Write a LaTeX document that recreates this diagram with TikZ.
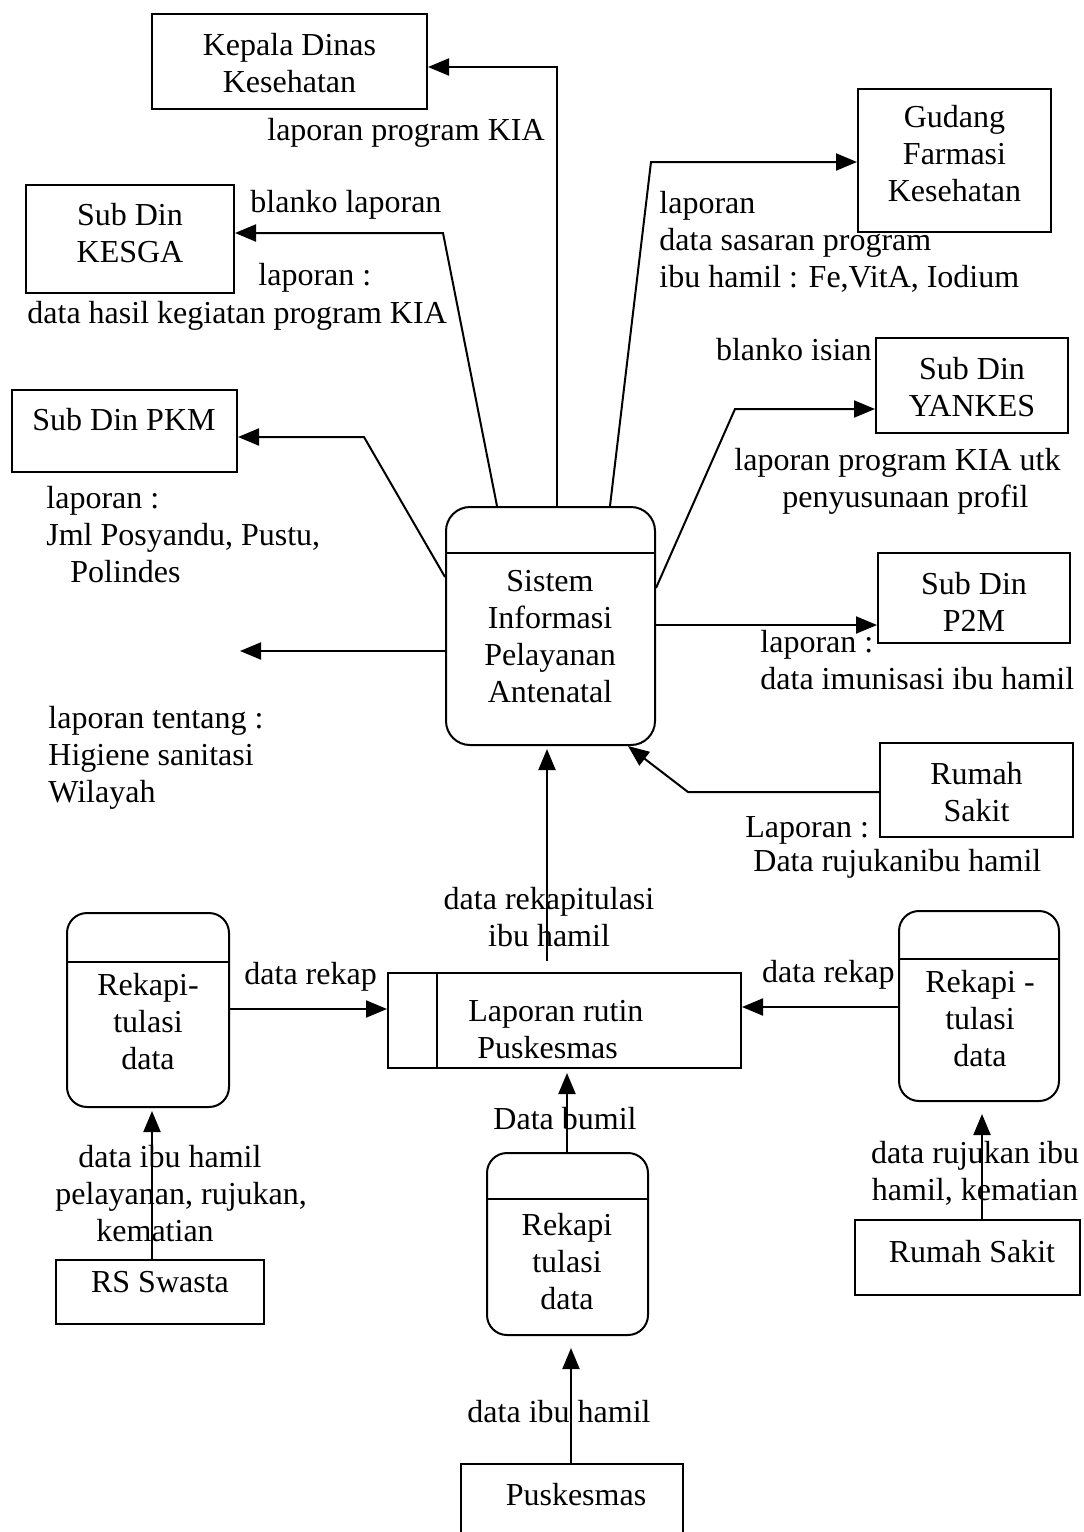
\documentclass[tikz,border=0pt]{standalone}
\usepackage{fontspec}
\setmainfont{Liberation Serif}
\usetikzlibrary{arrows.meta}
\begin{document}
\begin{tikzpicture}[x=0.5pt,y=-0.5pt,
  every node/.style={font=\fontsize{16}{18.5}\selectfont, inner sep=0pt},
  ent/.style={draw, line width=1pt, align=center},
  store/.style={draw, line width=1pt, rounded corners=10pt},
  arr/.style={line width=1pt, -{Triangle[length=10.5pt,width=8.5pt]}},
  lbl/.style={align=left}]

% page
\useasboundingbox (0,0) rectangle (1083,1532);
\fill[white] (0,0) rectangle (1083,1532);
\clip (0,0) rectangle (1083,1532);

% external entities
\node[ent, minimum width=137.5pt, minimum height=47.5pt] (kepala) at (289.5,61.5) {};
\node[align=center] (kepalatxt) at (289.5,63.5) {Kepala Dinas\\Kesehatan};
\node[ent, minimum width=96.5pt, minimum height=71.5pt] (gudang) at (954.5,160.5) {};
\node[align=center] (gudangtxt) at (954.5,154) {Gudang\\Farmasi\\Kesehatan};
\node[ent, minimum width=104pt, minimum height=54pt] (kesga) at (130,239) {};
\node[align=center] (kesgatxt) at (130,233.5) {Sub Din\\KESGA};
\node[ent, minimum width=112.5pt, minimum height=41pt] (pkm) at (124.5,431) {};
\node (pkmtxt) at (124,420) {Sub Din PKM};
\node[ent, minimum width=96pt, minimum height=47.5pt] (yankes) at (972,385.5) {};
\node[align=center] (yankestxt) at (972,387.5) {Sub Din\\YANKES};
\node[ent, minimum width=96pt, minimum height=45pt] (p2m) at (974,598) {};
\node[align=center] (p2mtxt) at (974,601.5) {Sub Din\\P2M};
\node[ent, minimum width=96.5pt, minimum height=47pt] (rs) at (976.5,790) {};
\node[align=center] (rstxt) at (976.5,792) {Rumah\\Sakit};
\node[ent, minimum width=104pt, minimum height=32pt] (rsw) at (160,1292) {};
\node (rswtxt) at (160,1282) {RS Swasta};
\node[ent, minimum width=112.5pt, minimum height=37.5pt] (rsb) at (967.5,1257.5) {};
\node (rsbtxt) at (972,1252) {Rumah Sakit};
\node[ent, minimum width=111pt, minimum height=38pt] (pusk) at (572,1502) {};
\node (pusktxt) at (576,1495) {Puskesmas};

% main process
\node[store, rounded corners=12pt, minimum width=104.5pt, minimum height=119pt] (proc) at (550.5,626) {};
\draw[line width=1pt] (proc.west |- 0,553) -- (proc.east |- 0,553);
\node[align=center] (proctxt) at (550,636.5) {Sistem\\Informasi\\Pelayanan\\Antenatal};

% routine report
\node[ent, minimum width=176.5pt, minimum height=47.5pt] (lap) at (564.5,1020.5) {};
\draw[line width=1pt] (lap.north -| 437,0) -- (lap.south -| 437,0);
\node[lbl, anchor=west] (laptxt) at (468,1030) {Laporan rutin\\\hspace*{4.5pt}Puskesmas};

% data stores
\node[store, minimum width=81pt, minimum height=97pt] (storeL) at (148,1010) {};
\draw[line width=1pt] (storeL.west |- 0,962) -- (storeL.east |- 0,962);
\node[align=center] (storeLtxt) at (148,1022) {Rekapi-\\tulasi\\data};
\node[store, minimum width=80pt, minimum height=95pt] (storeR) at (979,1006) {};
\draw[line width=1pt] (storeR.west |- 0,959) -- (storeR.east |- 0,959);
\node[align=center] (storeRtxt) at (980,1019) {Rekapi -\\tulasi\\data};
\node[store, minimum width=80.5pt, minimum height=91pt] (storeB) at (567.5,1244) {};
\draw[line width=1pt] (storeB.west |- 0,1199) -- (storeB.east |- 0,1199);
\node[align=center] (storeBtxt) at (567,1262) {Rekapi\\tulasi\\data};

% flows from the process
\coordinate (ka) at (557,67);
\draw[arr] (proc.north -| ka) -- (ka) -- (kepala.east |- ka);
\coordinate (ga) at (651,162);
\draw[arr] (proc.north -| 610,0) -- (ga) -- (gudang.west |- ga);
\coordinate (sa) at (443,233);
\draw[arr] (proc.north -| 497,0) -- (sa) -- (kesga.east |- sa);
\coordinate (pa) at (364,437);
\draw[arr] (proc.west |- 0,577) -- (pa) -- (pkm.east |- pa);
\coordinate (wl) at (240,651);
\draw[arr] (proc.west |- wl) -- (wl);
\coordinate (ya) at (735,409);
\draw[arr] (proc.east |- 0,588) -- (ya) -- (yankes.west |- ya);
\draw[arr] (proc.east |- 0,625) -- (p2m.west |- 0,625);

% flows into the process
\coordinate (ra) at (688,792);
\draw[arr] (rs.west |- ra) -- (ra) -- (proc.south -| 628,0);
\draw[arr, shorten <=5.5pt, shorten >=1.5pt] (lap.north -| 547,0) -- (proc.south -| 547,0);

% lower flows
\draw[arr] (storeL.east |- 0,1009) -- (lap.west |- 0,1009);
\draw[arr] (storeR.west |- 0,1007) -- (lap.east |- 0,1007);
\draw[arr, shorten >=1.5pt] (rsw.north -| 152,0) -- (storeL.south -| 152,0);
\draw[arr, shorten >=6pt] (rsb.north -| 982,0) -- (storeR.south -| 982,0);
\draw[arr, shorten >=2pt] (storeB.north -| 567,0) -- (lap.south -| 567,0);
\draw[arr, shorten >=6pt] (pusk.north -| 571,0) -- (storeB.south -| 571,0);

% flow labels
\node[anchor=east] (l1) at (545,133) {laporan program KIA};
\node[lbl, anchor=west] (l2) at (659,242) {laporan\\data sasaran program\\ibu hamil : Fe,VitA, Iodium};
\node[anchor=west] (l3) at (250,205) {blanko laporan};
\node[anchor=west] (l4) at (258,278) {laporan :};
\node[anchor=west] (l5) at (27,316) {data hasil kegiatan program KIA};
\node[lbl, anchor=west] (l6) at (46,534.5) {laporan :\\Jml Posyandu, Pustu,\\\hspace*{12pt}Polindes};
\node[lbl, anchor=west] (l7) at (48,757.5) {laporan tentang :\\Higiene sanitasi\\Wilayah};
\node[anchor=east] (l8) at (872,350) {blanko isian};
\node[lbl, anchor=west] (l9) at (734,481) {laporan program KIA utk\\\hspace*{24pt}penyusunaan profil};
\node[lbl, anchor=west] (l10) at (760,660) {laporan :\\data imunisasi ibu hamil};
\node[anchor=west] (l11) at (745,830) {Laporan :};
\node[anchor=west] (l12) at (753,864) {Data rujukanibu hamil};
\node[align=center] (l13) at (549,917) {data rekapitulasi\\ibu hamil};
\node[anchor=west] (l14) at (244,977) {data rekap};
\node[anchor=east] (l15) at (895,975) {data rekap};
\node[lbl, anchor=west] (l16) at (55,1194) {\hspace*{11.5pt}data ibu hamil\\pelayanan, rujukan,\\\hspace*{20.5pt}kematian};
\node (l17) at (565,1119) {Data bumil};
\node[align=center] (l18) at (975,1173.5) {data rujukan ibu\\hamil, kematian};
\node (l19) at (559,1412) {data ibu hamil};

\end{tikzpicture}
\end{document}
